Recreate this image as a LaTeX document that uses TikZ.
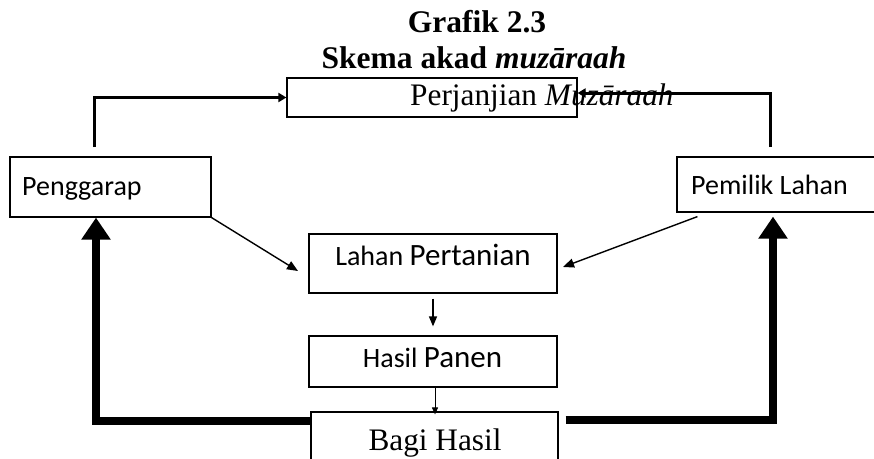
\documentclass[tikz,border=0pt]{standalone}
\usepackage{fontspec}
\setmainfont{Liberation Serif}
\newfontfamily\calibri{Carlito}
\usetikzlibrary{arrows.meta}
\begin{document}
\begin{tikzpicture}[x=1pt,y=-1pt,
  box/.style={draw, line width=1.2pt, inner sep=0pt},
  titlefont/.style={font=\bfseries\fontsize{31.5}{36}\selectfont, inner sep=0pt},
  serif/.style={font=\fontsize{31.3}{36}\selectfont, inner sep=0pt},
  sans/.style={font=\calibri\fontsize{28}{32}\selectfont, inner sep=0pt},
  conn/.style={line width=3pt, line join=miter, -{Triangle[length=8pt,width=9pt]}},
  diag/.style={line width=1.4pt, -{Triangle[length=11pt,width=9pt]}},
  fat/.style={line width=8pt, line join=miter, -{Triangle[length=22pt,width=28pt]}},
]
\useasboundingbox (0,0) rectangle (874,458);

% boxes
\node[box, minimum width=290pt, minimum height=39pt] (perj) at (432,97.5) {};
\node[box, minimum width=201pt, minimum height=60pt] (peng) at (110.5,187) {};
\node[box, minimum width=199pt, minimum height=55pt] (pem) at (776.5,184.5) {};
\node[box, minimum width=248pt, minimum height=59pt] (lahan) at (433,263.5) {};
\node[box, minimum width=248pt, minimum height=51pt] (hasil) at (433,361.5) {};
\node[box, minimum width=247pt, minimum height=50pt] (bagi) at (434.5,437) {};

% texts
\node[titlefont, anchor=base] (t1) at (477,32) {Grafik 2.3};
\node[titlefont, anchor=base] (t2) at (474,68) {Skema akad \textit{muzāraah}};
\node[serif, anchor=base west] (perjt) at (410,105) {Perjanjian \textit{Muzāraah}};
\node[sans, anchor=base west] (pengt) at (22,195) {Penggarap};
\node[sans, anchor=base west] (pemt) at (691,194) {Pemilik Lahan};
\node[font=\calibri, inner sep=0pt, anchor=base] (laht) at (433,265)
  {{\fontsize{28}{32}\selectfont Lahan }{\fontsize{31}{36}\selectfont Pertanian}};
\node[font=\calibri, inner sep=0pt, anchor=base] (hast) at (432.5,367)
  {{\fontsize{28}{32}\selectfont Hasil }{\fontsize{31}{36}\selectfont Panen}};
\node[serif, anchor=base] (bagit) at (435,450) {Bagi Hasil};

% connectors
\coordinate (pengup) at (94,147);
\coordinate (pemup) at (770,147);
\draw[conn] (pengup) |- (perj.west);
\draw[conn] (pemup) |- ([yshift=4.5pt]perj.east);

\coordinate (lahanL) at (298,271);
\coordinate (lahanR) at (563,267);
\draw[diag] (peng.south east) -- (lahanL);
\draw[diag] ([xshift=21pt,yshift=-4pt]pem.south west) -- (lahanR);

\draw[line width=1.4pt, -{Triangle[length=10pt,width=8pt]}, shorten <=5pt, shorten >=9pt]
  (lahan.south) -- (hasil.north);
\draw[line width=1pt, -{Triangle[length=7pt,width=6pt]}]
  ([xshift=2pt]hasil.south) -- ([xshift=0.5pt,yshift=-3pt]bagi.north);

\draw[fat] ([yshift=16pt]bagi.west) -| ([xshift=-14.5pt]peng.south);
\draw[fat] ([xshift=7pt,yshift=17pt]bagi.east) -| ([xshift=-3.5pt,yshift=-4pt]pem.south);
\end{tikzpicture}
\end{document}
